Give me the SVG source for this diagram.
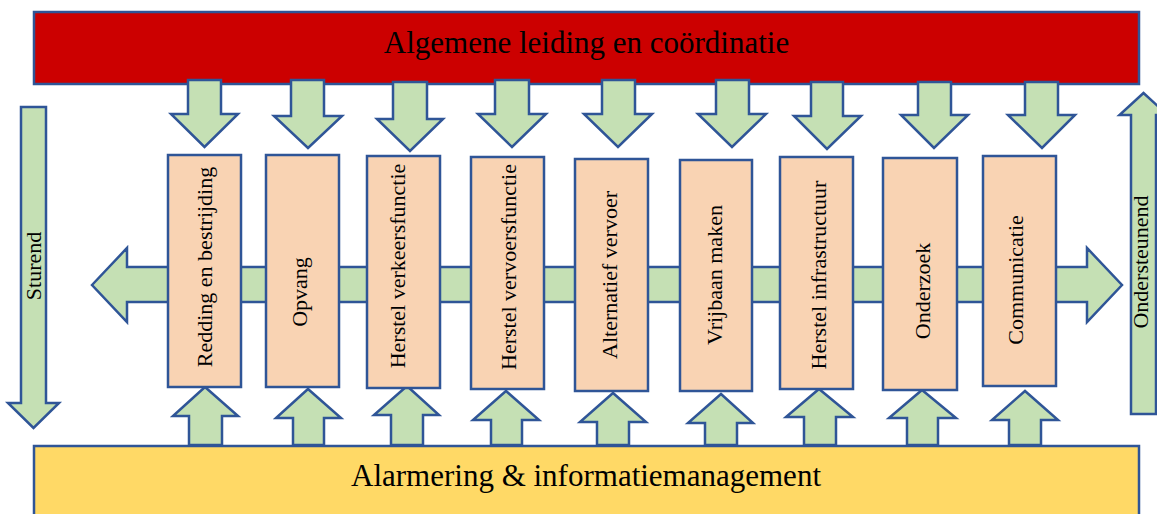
<svg xmlns="http://www.w3.org/2000/svg" width="1157" height="514" viewBox="0 0 1157 514">
<style>
.bar{stroke:#2F5597;stroke-width:2.5}
.arr{fill:#C5E0B4;stroke:#2F5597;stroke-width:2.5;stroke-linejoin:miter}
.box{fill:#F9D3B3;stroke:#2F5597;stroke-width:2.5}
.t{font-family:"Liberation Serif","Times New Roman",serif;fill:#000}
.big{font-size:31px;text-anchor:middle}
.rot{font-size:22px;text-anchor:middle}
</style>
<rect width="1157" height="514" fill="#FFFFFF"/>
<g id="connectors">
<polygon class="arr" points="92,285 127,248 127,267 1087,267 1087,248 1122,285 1087,322 1087,302 127,302 127,322"/>
<polygon id="sturend-arrow" class="arr" points="21,107 46,107 46,403 59,403 33.5,428 8,403 21,403"/>
<polygon id="ondersteunend-arrow" class="arr" points="1143.5,93 1167.5,115 1156,115 1156,414 1131,414 1131,115 1119.5,115"/>
</g>
<g id="top-bar">
<rect class="bar" x="34" y="12" width="1105" height="72" fill="#CC0000"/>
<text class="t big" x="586.5" y="52.5">Algemene leiding en coördinatie</text>
</g>
<g id="bottom-bar">
<rect class="bar" x="34" y="446" width="1105" height="80" fill="#FFD966"/>
<text class="t big" x="586" y="486">Alarmering &amp; informatiemanagement</text>
</g>
<g id="down-arrows">
<polygon class="arr" points="188,80 221,80 221,114 238,114 204.5,147 171,114 188,114"/>
<polygon class="arr" points="291,80 324,80 324,116 342,116 308,148 274,116 291,116"/>
<polygon class="arr" points="393,82 427,82 427,119 443,119 410,151 377,119 393,119"/>
<polygon class="arr" points="495,80 529,80 529,114 546,114 512,147 478,114 495,114"/>
<polygon class="arr" points="602,80 635,80 635,114 652,114 618,147 584,114 602,114"/>
<polygon class="arr" points="716,80 749,80 749,114 766,114 732,147 698,114 716,114"/>
<polygon class="arr" points="811,82 843,82 843,116 861,116 827,149 794,116 811,116"/>
<polygon class="arr" points="918,82 951,82 951,115 968,115 934,148 901,115 918,115"/>
<polygon class="arr" points="1025,82 1058,82 1058,115 1075,115 1042,148 1008,115 1025,115"/>
</g>
<g id="up-arrows">
<polygon class="arr" points="189,445 222,445 222,416 238,416 205,387 173,416 189,416"/>
<polygon class="arr" points="293,445 324,445 324,418 341,418 308,389 276,418 293,418"/>
<polygon class="arr" points="391,445 423,445 423,415 439,415 407,386 374,415 391,415"/>
<polygon class="arr" points="491,445 522,445 522,420 539,420 506,391 473,420 491,420"/>
<polygon class="arr" points="597,445 629,445 629,422 646,422 613,393 580,422 597,422"/>
<polygon class="arr" points="705,445 737,445 737,423 753,423 721,394 688,423 705,423"/>
<polygon class="arr" points="804,445 836,445 836,417 853,417 819,389 786,417 804,417"/>
<polygon class="arr" points="907,445 938,445 938,418 956,418 922,390 889,418 907,418"/>
<polygon class="arr" points="1009,445 1041,445 1041,420 1058,420 1025,391 992,420 1009,420"/>
</g>
<g id="node-redding"><rect class="box" x="168" y="155" width="73" height="232"/><text class="t rot" transform="translate(212,267) rotate(-90)">Redding en bestrijding</text></g>
<g id="node-opvang"><rect class="box" x="266" y="155" width="73" height="232"/><text class="t rot" transform="translate(307,292) rotate(-90)">Opvang</text></g>
<g id="node-herstel-verkeer"><rect class="box" x="367" y="156" width="73" height="232"/><text class="t rot" transform="translate(405,266) rotate(-90)">Herstel verkeersfunctie</text></g>
<g id="node-herstel-vervoer"><rect class="box" x="471" y="157" width="73" height="232"/><text class="t rot" transform="translate(516,267) rotate(-90)">Herstel vervoersfunctie</text></g>
<g id="node-alternatief"><rect class="box" x="575" y="159" width="73" height="232"/><text class="t rot" transform="translate(617,275) rotate(-90)">Alternatief vervoer</text></g>
<g id="node-vrijbaan"><rect class="box" x="680" y="160" width="72" height="231"/><text class="t rot" transform="translate(722,275) rotate(-90)">Vrijbaan maken</text></g>
<g id="node-infra"><rect class="box" x="780" y="157" width="73" height="232"/><text class="t rot" transform="translate(826,275) rotate(-90)">Herstel infrastructuur</text></g>
<g id="node-onderzoek"><rect class="box" x="883" y="158" width="74" height="232"/><text class="t rot" transform="translate(930,291) rotate(-90)">Onderzoek</text></g>
<g id="node-communicatie"><rect class="box" x="983" y="156" width="73" height="230"/><text class="t rot" transform="translate(1023,280) rotate(-90)">Communicatie</text></g>
<g id="label-sturend"><text class="t rot" transform="translate(41,266) rotate(-90)">Sturend</text></g>
<g id="label-ondersteunend"><text class="t rot" transform="translate(1148,262) rotate(-90)">Ondersteunend</text></g>
</svg>
